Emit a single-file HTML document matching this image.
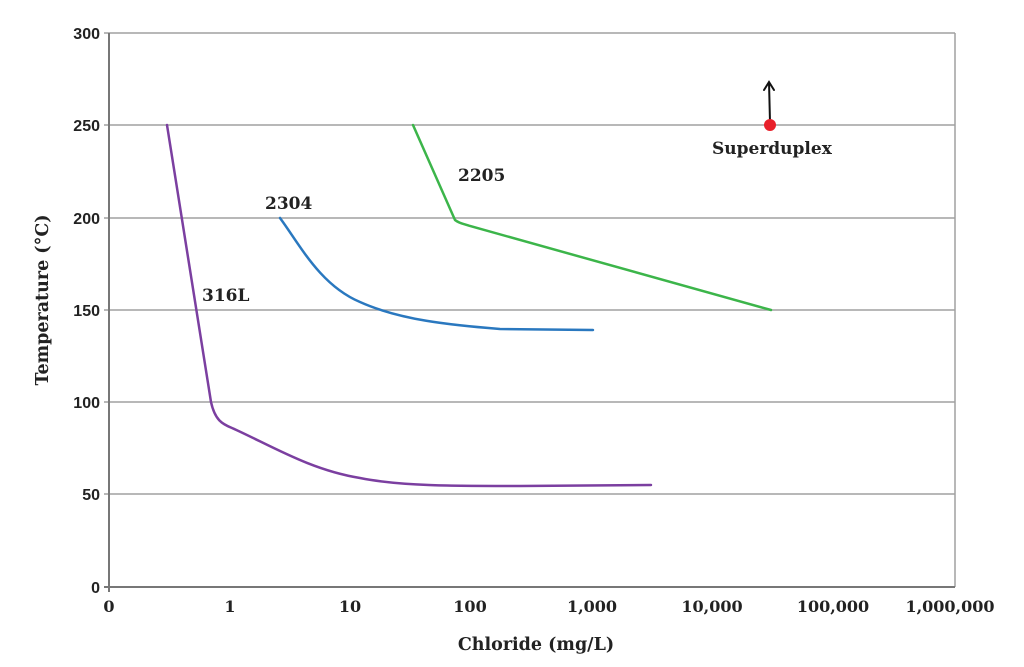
<!DOCTYPE html>
<html><head><meta charset="utf-8"><style>
html,body{margin:0;padding:0;background:#fff;}
svg{display:block;}
.ys{font-family:"Liberation Sans",sans-serif;font-weight:bold;font-size:16px;fill:#222;}
.xs{font-family:"DejaVu Serif",serif;font-weight:bold;font-size:16px;fill:#222;}
.lb{font-family:"DejaVu Serif",serif;font-weight:bold;font-size:17px;fill:#222;}
.at{font-family:"DejaVu Serif",serif;font-weight:bold;font-size:17.5px;fill:#222;}
</style></head><body>
<svg width="1024" height="667" viewBox="0 0 1024 667" xmlns="http://www.w3.org/2000/svg">
<g stroke="#a0a0a0" stroke-width="1.5">
<line x1="104" y1="33" x2="955" y2="33"/>
<line x1="104" y1="125" x2="955" y2="125"/>
<line x1="104" y1="218" x2="955" y2="218"/>
<line x1="104" y1="310" x2="955" y2="310"/>
<line x1="104" y1="402" x2="955" y2="402"/>
<line x1="104" y1="494" x2="955" y2="494"/>
<line x1="955" y1="33" x2="955" y2="587"/>
</g>
<g stroke="#777" stroke-width="2">
<line x1="109" y1="33" x2="109" y2="592"/>
<line x1="104" y1="587" x2="955" y2="587"/>
</g>
<g stroke="#777" stroke-width="1" id="ticks"></g>
<g class="ys" text-anchor="end">
<text x="100" y="39">300</text><text x="100" y="131">250</text><text x="100" y="224">200</text>
<text x="100" y="316">150</text><text x="100" y="408">100</text><text x="100" y="500">50</text><text x="100" y="593">0</text>
</g>
<g class="xs" text-anchor="middle">
<text x="109" y="612">0</text><text x="230" y="612">1</text><text x="350" y="612">10</text>
<text x="470" y="612">100</text><text x="592" y="612">1,000</text><text x="712" y="612">10,000</text>
<text x="833" y="612">100,000</text><text x="950" y="612">1,000,000</text>
</g>
<text class="at" x="536" y="650" text-anchor="middle">Chloride (mg/L)</text>
<text class="at" transform="translate(48,300) rotate(-90)" text-anchor="middle">Temperature (°C)</text>
<g fill="none" stroke-width="2.5" stroke-linecap="round">
<path stroke="#7b3fa0" d="M167,125 L211,402 C215,420 222,424 232,428 C270,445 310,470 360,478 C400,486 450,486 520,486 L651,485"/>
<path stroke="#2a78bf" d="M280,218 C300,245 320,285 360,302 C400,320 450,325 500,329 L593,330"/>
<path stroke="#3cb54a" d="M413,125 L455,220 C460,224 465,224 470,226 L771,310"/>
<path stroke="#111" stroke-width="2" d="M770,122 L769,82 M764,90 L769,82 L774,90"/>
</g>
<circle cx="770" cy="125" r="6" fill="#e8202a"/>
<g class="lb">
<text x="202" y="301">316L</text><text x="265" y="209">2304</text><text x="458" y="181">2205</text>
<text x="712" y="154">Superduplex</text>
</g>
<script>
var g=document.getElementById('ticks'),s='';
for(var d=0;d<7;d++){for(var k=2;k<=9;k++){var x=109+120.8*(d+Math.log10(k));s+='<line x1="'+x+'" y1="587" x2="'+x+'" y2="583"/>';}
var X=109+120.8*(d+1);s+='<line x1="'+X+'" y1="587" x2="'+X+'" y2="592"/>';}
g.innerHTML=s;
</script>
</svg>
</body></html>
